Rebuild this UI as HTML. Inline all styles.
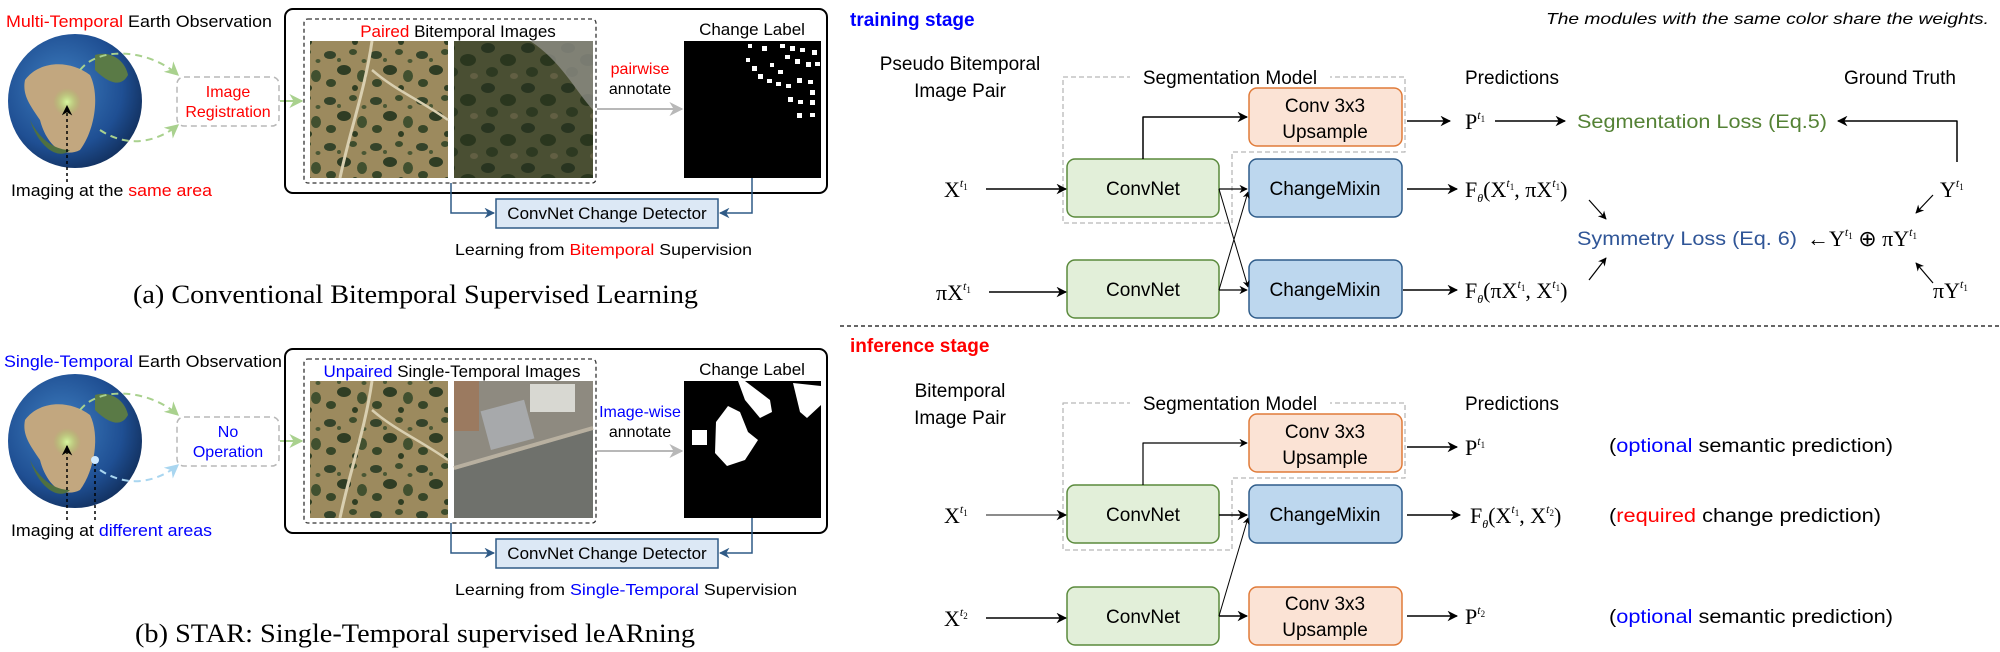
<!DOCTYPE html>
<html><head><meta charset="utf-8"><style>
html,body{margin:0;padding:0;background:#fff;}
svg{display:block}
.s{font-family:"Liberation Sans",sans-serif}
.r{font-family:"Liberation Serif",serif}
</style></head><body>
<svg width="2000" height="652" viewBox="0 0 2000 652" xmlns="http://www.w3.org/2000/svg">
<defs>
<marker id="ak" viewBox="0 0 10 10" refX="9" refY="5" markerWidth="7" markerHeight="7" orient="auto"><path d="M0,0 L10,5 L0,10 L3,5 z" fill="#000"/></marker>
<marker id="ab" viewBox="0 0 10 10" refX="9" refY="5" markerWidth="7" markerHeight="7" orient="auto"><path d="M0,0 L10,5 L0,10 L3,5 z" fill="#2f5a86"/></marker>
<marker id="ag" viewBox="0 0 10 10" refX="9" refY="5" markerWidth="7" markerHeight="7" orient="auto"><path d="M0,0 L10,5 L0,10 L3,5 z" fill="#b8b8b8"/></marker>
<marker id="agr" viewBox="0 0 10 10" refX="9" refY="5" markerWidth="7" markerHeight="7" orient="auto"><path d="M0,0 L10,5 L0,10 L3,5 z" fill="#a9d18e"/></marker>
<marker id="alb" viewBox="0 0 10 10" refX="9" refY="5" markerWidth="7" markerHeight="7" orient="auto"><path d="M0,0 L10,5 L0,10 L3,5 z" fill="#a9d6f0"/></marker>
<radialGradient id="globe" cx="0.4" cy="0.4" r="0.65">
<stop offset="0" stop-color="#3f7fc0"/><stop offset="0.7" stop-color="#1f4f93"/><stop offset="1" stop-color="#12305e"/></radialGradient>
<radialGradient id="glow"><stop offset="0" stop-color="#d8f7a0"/><stop offset="1" stop-color="#9cd060" stop-opacity="0"/></radialGradient>
<pattern id="sat1" width="46" height="46" patternUnits="userSpaceOnUse">
<rect width="46" height="46" fill="#9c8a5e"/>
<ellipse cx="8" cy="9" rx="6" ry="4" fill="#34432a"/><ellipse cx="31" cy="6" rx="4" ry="3" fill="#3d4c2c"/>
<ellipse cx="22" cy="24" rx="7" ry="5" fill="#2f3d24"/><ellipse cx="40" cy="30" rx="5" ry="6" fill="#41502f"/>
<ellipse cx="9" cy="37" rx="5" ry="4" fill="#374628"/><ellipse cx="33" cy="42" rx="3" ry="3" fill="#2f3d22"/>
<ellipse cx="17" cy="14" rx="2" ry="2" fill="#4a5734"/><ellipse cx="42" cy="15" rx="2.5" ry="2" fill="#4a5734"/>
</pattern>
<pattern id="sat2" width="40" height="40" patternUnits="userSpaceOnUse">
<rect width="40" height="40" fill="#4a4f33"/>
<ellipse cx="8" cy="8" rx="7" ry="5" fill="#283420"/><ellipse cx="28" cy="20" rx="8" ry="6" fill="#2a361e"/>
<ellipse cx="12" cy="32" rx="6" ry="5" fill="#2d3921"/><ellipse cx="34" cy="36" rx="4" ry="3" fill="#625f43"/>
</pattern>
</defs>

<!-- ================= PANEL (a) ================= -->
<g id="pa">
<text class="s" x="6" y="27" font-size="17" textLength="266" lengthAdjust="spacingAndGlyphs"><tspan fill="#ff0000">Multi-Temporal</tspan> Earth Observation</text>
<circle cx="75" cy="101" r="67" fill="url(#globe)"/>
<path d="M25,80 C40,60 70,60 90,75 C100,95 95,130 80,150 C60,160 45,140 40,120 C30,105 22,95 25,80 z" fill="#c2a77f"/>
<path d="M95,55 C110,50 125,60 128,75 C120,90 105,80 95,70 z" fill="#5a7a46"/>
<path d="M30,120 C40,140 55,150 70,150 C60,160 40,150 30,120 z" fill="#4f7040"/>
<circle cx="67" cy="102" r="14" fill="url(#glow)"/>
<path d="M80,70 C100,45 150,50 178,75" fill="none" stroke="#a9d18e" stroke-width="2" stroke-dasharray="7,5" marker-end="url(#agr)"/>
<path d="M100,130 C130,150 160,140 178,125" fill="none" stroke="#a9d18e" stroke-width="2" stroke-dasharray="7,5" marker-end="url(#agr)"/>
<line x1="67" y1="182" x2="67" y2="106" stroke="#000" stroke-width="1.5" stroke-dasharray="3,3" marker-end="url(#ak)"/>
<text class="s" x="11" y="196" font-size="17" textLength="201" lengthAdjust="spacingAndGlyphs">Imaging at the <tspan fill="#ff0000">same area</tspan></text>
<rect x="177" y="77" width="102" height="49" rx="7" fill="#fff" stroke="#b8b8b8" stroke-width="1.5" stroke-dasharray="6,4"/>
<text class="s" x="228" y="97" font-size="16" fill="#ff0000" text-anchor="middle">Image</text>
<text class="s" x="228" y="117" font-size="16" fill="#ff0000" text-anchor="middle">Registration</text>
<line x1="280" y1="101" x2="302" y2="101" stroke="#a9d18e" stroke-width="2" marker-end="url(#agr)"/>
<rect x="285" y="9" width="542" height="184" rx="8" fill="none" stroke="#000" stroke-width="2"/>
<rect x="304" y="19" width="292" height="164" rx="4" fill="none" stroke="#333" stroke-width="1.3" stroke-dasharray="4,3"/>
<text class="s" x="458" y="37" font-size="17" text-anchor="middle"><tspan fill="#ff0000">Paired</tspan> Bitemporal Images</text>
<rect x="310" y="41" width="138" height="137" fill="url(#sat1)"/>
<path d="M372,41 C365,90 350,130 340,178" stroke="#d9cfb0" stroke-width="3" fill="none"/>
<path d="M372,70 C395,90 420,100 448,120" stroke="#d9cfb0" stroke-width="2.5" fill="none"/>
<rect x="454" y="41" width="139" height="137" fill="url(#sat2)"/>
<path d="M530,41 C560,60 575,90 593,110 L593,41 z" fill="#8d8d86" opacity="0.8"/>
<text class="s" x="640" y="74" font-size="16" fill="#ff0000" text-anchor="middle">pairwise</text>
<text class="s" x="640" y="94" font-size="16" text-anchor="middle">annotate</text>
<line x1="597" y1="109" x2="682" y2="109" stroke="#b8b8b8" stroke-width="2" marker-end="url(#ag)"/>
<text class="s" x="752" y="35" font-size="17" text-anchor="middle">Change Label</text>
<rect x="684" y="41" width="137" height="137" fill="#000"/>
<g fill="#fff">
<rect x="748" y="44" width="4" height="4"/><rect x="762" y="46" width="5" height="5"/><rect x="780" y="44" width="5" height="4"/><rect x="790" y="46" width="5" height="5"/><rect x="800" y="48" width="5" height="4"/><rect x="812" y="50" width="5" height="5"/>
<rect x="746" y="58" width="4" height="4"/><rect x="752" y="66" width="5" height="5"/><rect x="785" y="55" width="5" height="4"/><rect x="795" y="59" width="5" height="5"/><rect x="806" y="62" width="5" height="5"/><rect x="815" y="62" width="5" height="4"/>
<rect x="770" y="63" width="4" height="4"/><rect x="778" y="70" width="5" height="4"/><rect x="758" y="74" width="5" height="5"/><rect x="767" y="79" width="5" height="4"/><rect x="776" y="82" width="5" height="4"/><rect x="786" y="84" width="5" height="4"/><rect x="797" y="78" width="5" height="5"/><rect x="808" y="80" width="5" height="4"/>
<rect x="810" y="90" width="5" height="5"/><rect x="788" y="97" width="5" height="5"/><rect x="798" y="100" width="5" height="4"/><rect x="810" y="100" width="5" height="5"/><rect x="797" y="113" width="5" height="5"/><rect x="810" y="113" width="5" height="4"/>
</g>
<rect x="496" y="199" width="222" height="29" fill="#dce8f5" stroke="#2f5a86" stroke-width="1.5"/>
<text class="s" x="607" y="219" font-size="17" text-anchor="middle">ConvNet Change Detector</text>
<polyline points="451,183 451,213 494,213" fill="none" stroke="#2f5a86" stroke-width="1.5" marker-end="url(#ab)"/>
<polyline points="752,178 752,213 720,213" fill="none" stroke="#2f5a86" stroke-width="1.5" marker-end="url(#ab)"/>
<text class="s" x="455" y="255" font-size="16" textLength="297" lengthAdjust="spacingAndGlyphs">Learning from <tspan fill="#ff0000">Bitemporal</tspan> Supervision</text>
<text class="r" x="133" y="303" font-size="26" textLength="565" lengthAdjust="spacingAndGlyphs">(a)  Conventional Bitemporal Supervised Learning</text>
</g>

<!-- ================= PANEL (b) ================= -->
<g id="pb">
<text class="s" x="4" y="367" font-size="17" textLength="278" lengthAdjust="spacingAndGlyphs"><tspan fill="#0000ff">Single-Temporal</tspan> Earth Observation</text>
<circle cx="75" cy="441" r="67" fill="url(#globe)"/>
<path d="M25,420 C40,400 70,400 90,415 C100,435 95,470 80,490 C60,500 45,480 40,460 C30,445 22,435 25,420 z" fill="#c2a77f"/>
<path d="M95,395 C110,390 125,400 128,415 C120,430 105,420 95,410 z" fill="#5a7a46"/>
<path d="M30,460 C40,480 55,490 70,490 C60,500 40,490 30,460 z" fill="#4f7040"/>
<circle cx="67" cy="442" r="14" fill="url(#glow)"/>
<circle cx="95" cy="460" r="4" fill="#cfe9ff"/>
<path d="M80,410 C100,385 150,390 178,415" fill="none" stroke="#a9d18e" stroke-width="2" stroke-dasharray="7,5" marker-end="url(#agr)"/>
<path d="M100,470 C130,490 160,480 178,465" fill="none" stroke="#a9d6f0" stroke-width="2" stroke-dasharray="7,5" marker-end="url(#alb)"/>
<line x1="67" y1="520" x2="67" y2="446" stroke="#000" stroke-width="1.5" stroke-dasharray="3,3" marker-end="url(#ak)"/>
<line x1="95" y1="520" x2="95" y2="464" stroke="#000" stroke-width="1.5" stroke-dasharray="3,3"/>
<text class="s" x="11" y="536" font-size="17" textLength="201" lengthAdjust="spacingAndGlyphs">Imaging at <tspan fill="#0000ff">different areas</tspan></text>
<rect x="177" y="417" width="102" height="49" rx="7" fill="#fff" stroke="#b8b8b8" stroke-width="1.5" stroke-dasharray="6,4"/>
<text class="s" x="228" y="437" font-size="16" fill="#0000ff" text-anchor="middle">No</text>
<text class="s" x="228" y="457" font-size="16" fill="#0000ff" text-anchor="middle">Operation</text>
<line x1="280" y1="441" x2="302" y2="441" stroke="#a9d18e" stroke-width="2" marker-end="url(#agr)"/>
<rect x="285" y="349" width="542" height="184" rx="8" fill="none" stroke="#000" stroke-width="2"/>
<rect x="304" y="359" width="292" height="164" rx="4" fill="none" stroke="#333" stroke-width="1.3" stroke-dasharray="4,3"/>
<text class="s" x="452" y="377" font-size="17" text-anchor="middle"><tspan fill="#0000ff">Unpaired</tspan> Single-Temporal Images</text>
<rect x="310" y="381" width="138" height="137" fill="url(#sat1)"/>
<path d="M372,381 C365,430 350,470 340,518" stroke="#d9cfb0" stroke-width="3" fill="none"/>
<path d="M372,410 C395,430 420,440 448,460" stroke="#d9cfb0" stroke-width="2.5" fill="none"/>
<rect x="454" y="381" width="139" height="137" fill="#8e8a80"/>
<path d="M454,470 L593,430 L593,518 L454,518 z" fill="#6f716c"/>
<path d="M454,468 L593,428" stroke="#b8b0a0" stroke-width="4"/>
<rect x="485" y="405" width="45" height="40" fill="#a7a9ab" transform="rotate(-15 507 425)"/>
<rect x="530" y="384" width="45" height="28" fill="#d8d8d2"/>
<rect x="454" y="381" width="25" height="50" fill="#9b7a60"/>
<text class="s" x="640" y="417" font-size="16" fill="#0000ff" text-anchor="middle">Image-wise</text>
<text class="s" x="640" y="437" font-size="16" text-anchor="middle">annotate</text>
<line x1="597" y1="451" x2="682" y2="451" stroke="#b8b8b8" stroke-width="2" marker-end="url(#ag)"/>
<text class="s" x="752" y="375" font-size="17" text-anchor="middle">Change Label</text>
<rect x="684" y="381" width="137" height="137" fill="#000"/>
<g fill="#fff">
<path d="M738,381 L745,381 L770,400 L772,412 L760,418 L745,400 z"/>
<path d="M793,383 L821,386 L821,405 L807,418 L800,412 z"/>
<path d="M716,422 L728,406 L740,412 L748,432 L758,440 L745,460 L727,466 L715,453 z"/>
<rect x="692" y="430" width="15" height="15"/>
</g>
<rect x="496" y="539" width="222" height="29" fill="#dce8f5" stroke="#2f5a86" stroke-width="1.5"/>
<text class="s" x="607" y="559" font-size="17" text-anchor="middle">ConvNet Change Detector</text>
<polyline points="451,523 451,553 494,553" fill="none" stroke="#2f5a86" stroke-width="1.5" marker-end="url(#ab)"/>
<polyline points="752,518 752,553 720,553" fill="none" stroke="#2f5a86" stroke-width="1.5" marker-end="url(#ab)"/>
<text class="s" x="455" y="595" font-size="16" textLength="342" lengthAdjust="spacingAndGlyphs">Learning from <tspan fill="#0000ff">Single-Temporal</tspan> Supervision</text>
<text class="r" x="135" y="642" font-size="26" textLength="560" lengthAdjust="spacingAndGlyphs">(b)  STAR: Single-Temporal supervised leARning</text>
</g>

<!-- ================= TRAINING ================= -->
<g stroke-linejoin="round">
<text class="s" x="850" y="26" font-size="19" font-weight="bold" fill="#0000ff">training stage</text>
<text class="s" x="1546" y="24" font-size="16" font-style="italic" textLength="443" lengthAdjust="spacingAndGlyphs">The modules with the same color share the weights.</text>
<text class="s" x="960" y="70" font-size="19" text-anchor="middle">Pseudo Bitemporal</text>
<text class="s" x="960" y="97" font-size="19" text-anchor="middle">Image Pair</text>
<path d="M1063,77 L1405,77 L1405,152 L1232,152 L1232,223 L1063,223 z" fill="none" stroke="#b8b8b8" stroke-width="1.3" stroke-dasharray="5,3"/>
<rect x="1130" y="66" width="200" height="22" fill="#fff"/>
<text class="s" x="1230" y="84" font-size="19" text-anchor="middle">Segmentation Model</text>
<text class="s" x="1512" y="84" font-size="19" text-anchor="middle">Predictions</text>
<text class="s" x="1900" y="84" font-size="19" text-anchor="middle">Ground Truth</text>

<rect x="1249" y="88" width="153" height="58" rx="8" fill="#fbe3d5" stroke="#e07b39" stroke-width="1.5"/>
<text class="s" x="1325" y="112" font-size="19" text-anchor="middle">Conv 3x3</text>
<text class="s" x="1325" y="138" font-size="19" text-anchor="middle">Upsample</text>
<rect x="1067" y="159" width="152" height="58" rx="8" fill="#e2efd9" stroke="#5a8a3c" stroke-width="1.5"/>
<text class="s" x="1143" y="195" font-size="19" text-anchor="middle">ConvNet</text>
<rect x="1249" y="159" width="153" height="58" rx="8" fill="#bdd7ee" stroke="#2e5c8a" stroke-width="1.5"/>
<text class="s" x="1325" y="195" font-size="19" text-anchor="middle">ChangeMixin</text>
<rect x="1067" y="260" width="152" height="58" rx="8" fill="#e2efd9" stroke="#5a8a3c" stroke-width="1.5"/>
<text class="s" x="1143" y="296" font-size="19" text-anchor="middle">ConvNet</text>
<rect x="1249" y="260" width="153" height="58" rx="8" fill="#bdd7ee" stroke="#2e5c8a" stroke-width="1.5"/>
<text class="s" x="1325" y="296" font-size="19" text-anchor="middle">ChangeMixin</text>

<g stroke="#000" stroke-width="1.5" fill="none">
<line x1="986" y1="189" x2="1066" y2="189" marker-end="url(#ak)"/>
<line x1="989" y1="292" x2="1066" y2="292" marker-end="url(#ak)"/>
<polyline points="1143,159 1143,117 1247,117" marker-end="url(#ak)"/>
<line x1="1219" y1="189" x2="1247" y2="189" marker-end="url(#ak)" stroke-width="1.2"/>
<line x1="1219" y1="290" x2="1247" y2="290" marker-end="url(#ak)" stroke-width="1.2"/>
<line x1="1219" y1="189" x2="1248" y2="287" marker-end="url(#ak)" stroke-width="1"/>
<line x1="1219" y1="290" x2="1248" y2="192" marker-end="url(#ak)" stroke-width="1"/>
<line x1="1407" y1="121" x2="1450" y2="121" marker-end="url(#ak)"/>
<line x1="1495" y1="121" x2="1565" y2="121" marker-end="url(#ak)"/>
<line x1="1407" y1="189" x2="1457" y2="189" marker-end="url(#ak)"/>
<line x1="1403" y1="290" x2="1457" y2="290" marker-end="url(#ak)"/>
<polyline points="1957,162 1957,121 1838,121" marker-end="url(#ak)"/>
<line x1="1589" y1="200" x2="1606" y2="219" marker-end="url(#ak)" stroke-width="1.2"/>
<line x1="1589" y1="280" x2="1606" y2="258" marker-end="url(#ak)" stroke-width="1.2"/>
<line x1="1933" y1="195" x2="1916" y2="213" marker-end="url(#ak)" stroke-width="1.2"/>
<line x1="1933" y1="283" x2="1916" y2="263" marker-end="url(#ak)" stroke-width="1.2"/>
</g>
<g class="r" font-size="22">
<text x="944" y="197">X<tspan font-size="12" dy="-10" font-style="italic">t</tspan><tspan font-size="9" dy="3">1</tspan></text>
<text x="936" y="300">πX<tspan font-size="12" dy="-10" font-style="italic">t</tspan><tspan font-size="9" dy="3">1</tspan></text>
<text x="1465" y="129">P<tspan font-size="12" dy="-10" font-style="italic">t</tspan><tspan font-size="9" dy="3">1</tspan></text>
<text x="1465" y="197">F<tspan font-size="12" dy="5" font-style="italic">θ</tspan><tspan dy="-5">(X</tspan><tspan font-size="12" dy="-10" font-style="italic">t</tspan><tspan font-size="9" dy="3">1</tspan><tspan dy="7">, πX</tspan><tspan font-size="12" dy="-10" font-style="italic">t</tspan><tspan font-size="9" dy="3">1</tspan><tspan dy="7">)</tspan></text>
<text x="1465" y="298">F<tspan font-size="12" dy="5" font-style="italic">θ</tspan><tspan dy="-5">(πX</tspan><tspan font-size="12" dy="-10" font-style="italic">t</tspan><tspan font-size="9" dy="3">1</tspan><tspan dy="7">, X</tspan><tspan font-size="12" dy="-10" font-style="italic">t</tspan><tspan font-size="9" dy="3">1</tspan><tspan dy="7">)</tspan></text>
<text x="1940" y="197">Y<tspan font-size="12" dy="-10" font-style="italic">t</tspan><tspan font-size="9" dy="3">1</tspan></text>
<text x="1933" y="298">πY<tspan font-size="12" dy="-10" font-style="italic">t</tspan><tspan font-size="9" dy="3">1</tspan></text>
<text x="1807" y="246">←Y<tspan font-size="12" dy="-10" font-style="italic">t</tspan><tspan font-size="9" dy="3">1</tspan><tspan dy="7"> ⊕ πY</tspan><tspan font-size="12" dy="-10" font-style="italic">t</tspan><tspan font-size="9" dy="3">1</tspan></text>
</g>
<text class="s" x="1577" y="128" font-size="19" fill="#548235" textLength="250" lengthAdjust="spacingAndGlyphs">Segmentation Loss (Eq.5)</text>
<text class="s" x="1577" y="245" font-size="19" fill="#2f5597" textLength="220" lengthAdjust="spacingAndGlyphs">Symmetry Loss (Eq. 6)</text>

<line x1="840" y1="326" x2="2000" y2="326" stroke="#333" stroke-width="1.5" stroke-dasharray="4,3"/>

<!-- ================= INFERENCE ================= -->
<text class="s" x="850" y="352" font-size="19" font-weight="bold" fill="#ff0000">inference stage</text>
<text class="s" x="960" y="397" font-size="19" text-anchor="middle">Bitemporal</text>
<text class="s" x="960" y="424" font-size="19" text-anchor="middle">Image Pair</text>
<path d="M1063,403 L1405,403 L1405,478 L1232,478 L1232,550 L1063,550 z" fill="none" stroke="#b8b8b8" stroke-width="1.3" stroke-dasharray="5,3"/>
<rect x="1130" y="392" width="200" height="22" fill="#fff"/>
<text class="s" x="1230" y="410" font-size="19" text-anchor="middle">Segmentation Model</text>
<text class="s" x="1512" y="410" font-size="19" text-anchor="middle">Predictions</text>

<rect x="1249" y="414" width="153" height="58" rx="8" fill="#fbe3d5" stroke="#e07b39" stroke-width="1.5"/>
<text class="s" x="1325" y="438" font-size="19" text-anchor="middle">Conv 3x3</text>
<text class="s" x="1325" y="464" font-size="19" text-anchor="middle">Upsample</text>
<rect x="1067" y="485" width="152" height="58" rx="8" fill="#e2efd9" stroke="#5a8a3c" stroke-width="1.5"/>
<text class="s" x="1143" y="521" font-size="19" text-anchor="middle">ConvNet</text>
<rect x="1249" y="485" width="153" height="58" rx="8" fill="#bdd7ee" stroke="#2e5c8a" stroke-width="1.5"/>
<text class="s" x="1325" y="521" font-size="19" text-anchor="middle">ChangeMixin</text>
<rect x="1067" y="587" width="152" height="58" rx="8" fill="#e2efd9" stroke="#5a8a3c" stroke-width="1.5"/>
<text class="s" x="1143" y="623" font-size="19" text-anchor="middle">ConvNet</text>
<rect x="1249" y="587" width="153" height="58" rx="8" fill="#fbe3d5" stroke="#e07b39" stroke-width="1.5"/>
<text class="s" x="1325" y="610" font-size="19" text-anchor="middle">Conv 3x3</text>
<text class="s" x="1325" y="636" font-size="19" text-anchor="middle">Upsample</text>

<g stroke="#000" stroke-width="1.5" fill="none">
<line x1="986" y1="515" x2="1066" y2="515" marker-end="url(#ak)" stroke="#666"/>
<line x1="986" y1="618" x2="1066" y2="618" marker-end="url(#ak)"/>
<polyline points="1143,485 1143,443 1247,443" marker-end="url(#ak)" stroke-width="1.2"/>
<line x1="1219" y1="515" x2="1247" y2="515" marker-end="url(#ak)"/>
<line x1="1219" y1="616" x2="1247" y2="616" marker-end="url(#ak)"/>
<line x1="1219" y1="616" x2="1248" y2="518" marker-end="url(#ak)" stroke-width="1"/>
<line x1="1407" y1="447" x2="1457" y2="447" marker-end="url(#ak)"/>
<line x1="1407" y1="515" x2="1460" y2="515" marker-end="url(#ak)"/>
<line x1="1407" y1="616" x2="1457" y2="616" marker-end="url(#ak)"/>
</g>
<g class="r" font-size="22">
<text x="944" y="523">X<tspan font-size="12" dy="-10" font-style="italic">t</tspan><tspan font-size="9" dy="3">1</tspan></text>
<text x="944" y="626">X<tspan font-size="12" dy="-10" font-style="italic">t</tspan><tspan font-size="9" dy="3">2</tspan></text>
<text x="1465" y="455">P<tspan font-size="12" dy="-10" font-style="italic">t</tspan><tspan font-size="9" dy="3">1</tspan></text>
<text x="1470" y="523">F<tspan font-size="12" dy="5" font-style="italic">θ</tspan><tspan dy="-5">(X</tspan><tspan font-size="12" dy="-10" font-style="italic">t</tspan><tspan font-size="9" dy="3">1</tspan><tspan dy="7">, X</tspan><tspan font-size="12" dy="-10" font-style="italic">t</tspan><tspan font-size="9" dy="3">2</tspan><tspan dy="7">)</tspan></text>
<text x="1465" y="624">P<tspan font-size="12" dy="-10" font-style="italic">t</tspan><tspan font-size="9" dy="3">2</tspan></text>
</g>
<text class="s" x="1609" y="452" font-size="19" textLength="284" lengthAdjust="spacingAndGlyphs">(<tspan fill="#0000ff">optional</tspan> semantic prediction)</text>
<text class="s" x="1609" y="522" font-size="19" textLength="272" lengthAdjust="spacingAndGlyphs">(<tspan fill="#ff0000">required</tspan> change prediction)</text>
<text class="s" x="1609" y="623" font-size="19" textLength="284" lengthAdjust="spacingAndGlyphs">(<tspan fill="#0000ff">optional</tspan> semantic prediction)</text>
</g>
</svg>
</body></html>
